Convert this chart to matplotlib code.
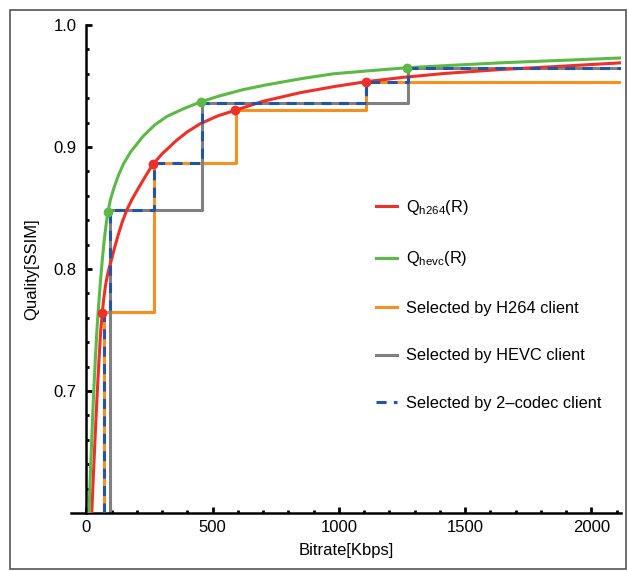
import numpy as np
import matplotlib
matplotlib.use("Agg")
import matplotlib.pyplot as plt
from matplotlib.patches import Rectangle

plt.rcParams['font.family'] = ['Liberation Sans', 'DejaVu Sans']
plt.rcParams['mathtext.fontset'] = 'custom'
plt.rcParams['mathtext.rm'] = 'Liberation Sans'
plt.rcParams['mathtext.it'] = 'Liberation Sans'

# quality curves (bitrate in Kbps, SSIM)
h264_curve_rate = [21, 24, 28, 33, 38, 44, 50, 56, 62, 68, 75, 82, 90, 100, 112, 125, 140, 159, 180, 205, 232,
                   262, 300, 357, 400, 450, 520, 588, 700, 846, 980, 1106, 1250, 1420, 1640, 1880, 2118]
h264_curve_q = [0.600, 0.615, 0.634, 0.657, 0.679, 0.704, 0.727, 0.748, 0.763, 0.775, 0.786, 0.794, 0.801,
                0.8085, 0.818, 0.8275, 0.8375, 0.848, 0.857, 0.866, 0.8755, 0.8855, 0.8945, 0.9055, 0.9125,
                0.919, 0.9255, 0.930, 0.9375, 0.9445, 0.9495, 0.9535, 0.957, 0.9603, 0.9635, 0.9662, 0.969]
hevc_curve_rate = [10, 12, 15, 20, 25, 30, 36, 42, 48, 55, 62, 70, 78, 86, 95, 108, 125, 146, 175, 225, 270,
                   318, 380, 452, 529, 620, 714, 850, 978, 1120, 1271, 1450, 1640, 1880, 2118]
hevc_curve_q = [0.600, 0.612, 0.630, 0.656, 0.682, 0.705, 0.730, 0.752, 0.770, 0.789, 0.806, 0.823, 0.837,
                0.848, 0.857, 0.866, 0.876, 0.886, 0.896, 0.909, 0.918, 0.925, 0.931, 0.937, 0.942, 0.947,
                0.951, 0.956, 0.960, 0.9625, 0.965, 0.967, 0.969, 0.971, 0.973]

# representations (where the staircases step up)
h264_rate = [70, 267, 592, 1106]
h264_q = [0.765, 0.887, 0.930, 0.953]
hevc_rate = [92, 459, 1275]
hevc_q = [0.848, 0.936, 0.9645]

# markers as drawn on the curves
h264_mark_rate = [62, 262, 588, 1106]
h264_mark_q = [0.764, 0.886, 0.930, 0.9535]
hevc_mark_rate = [85, 452, 1271]
hevc_mark_q = [0.847, 0.937, 0.965]

XMIN, XMAX = -62, 2118
YMIN, YMAX = 0.6, 1.0

RED = '#ee3028'
GREEN = '#5cb946'
ORANGE = '#f7901e'
GRAY = '#808080'
BLUE = '#2255a8'


def staircase(rates, quals):
    x = np.r_[rates[0], rates, XMAX]
    y = np.r_[YMIN, quals, quals[-1]]
    return x, y


# 2-codec client: best quality available at each bitrate
both = sorted(zip(h264_rate + hevc_rate, h264_q + hevc_q))
two_rate, two_q = [], []
for r, q in both:
    if not two_q or q > two_q[-1]:
        two_rate.append(r)
        two_q.append(q)

fig = plt.figure(figsize=(6.28, 5.71), dpi=100)
ax = fig.add_axes([0.1128, 0.1016, 0.8763, 0.8546])

lw = 2.2
x, y = staircase(h264_rate, h264_q)
ax.step(x, y, where='post', color=ORANGE, lw=lw, zorder=2, label='Selected by H264 client')
x, y = staircase(hevc_rate, hevc_q)
ax.step(x, y, where='post', color=GRAY, lw=lw, zorder=2, label='Selected by HEVC client')
ax.plot(h264_curve_rate, h264_curve_q, color=RED, lw=lw, zorder=3, label=r'Q$_{\mathrm{h264}}$(R)')
ax.plot(hevc_curve_rate, hevc_curve_q, color=GREEN, lw=lw, zorder=3, label=r'Q$_{\mathrm{hevc}}$(R)')
x, y = staircase(two_rate, two_q)
ax.step(x, y, where='post', color=BLUE, lw=lw, dashes=(3.3, 2.4), zorder=4, label='Selected by 2\u2013codec client')
ax.plot(h264_mark_rate, h264_mark_q, 'o', color=RED, ms=6, zorder=5)
ax.plot(hevc_mark_rate, hevc_mark_q, 'o', color=GREEN, ms=6, zorder=5)

ax.set_xlim(XMIN, XMAX)
ax.set_ylim(YMIN, YMAX)
ax.spines['top'].set_visible(False)
ax.spines['right'].set_visible(False)
ax.spines['left'].set_position(('data', 0))
for s in ('left', 'bottom'):
    ax.spines[s].set_linewidth(1.8)
ax.set_xticks([0, 500, 1000, 1500, 2000])
ax.set_xticks(np.arange(100, 2101, 100), minor=True)
ax.set_yticks([0.7, 0.8, 0.9, 1.0])
ax.set_yticks(np.arange(0.62, 1.0, 0.02), minor=True)
ax.tick_params(which='both', direction='in', width=2, labelsize=12)
ax.tick_params(axis='x', which='major', length=4, pad=5)
ax.tick_params(axis='y', which='major', length=4, pad=7)
ax.tick_params(which='minor', length=2.5)
ax.set_xlabel('Bitrate[Kbps]', fontsize=12, labelpad=6)
ax.set_ylabel('Quality[SSIM]', fontsize=12)
ax.yaxis.set_label_coords(-0.058, 0.5)

handles, labels = ax.get_legend_handles_labels()
order = [2, 3, 0, 1, 4]
ax.legend([handles[i] for i in order], [labels[i] for i in order], loc='upper left',
          bbox_to_anchor=(376 / 628, 1 - 198 / 571), bbox_transform=fig.transFigure,
          frameon=False, fontsize=11.8, handlelength=1.3, handletextpad=0.5,
          labelspacing=1.98, borderpad=0, borderaxespad=0)

fig.patches.append(Rectangle((10 / 628, 2 / 571), 616 / 628, 559 / 571, transform=fig.transFigure,
                             fill=False, edgecolor='#555555', lw=1.2))

fig.savefig('out.png', dpi=100)
plt.close()
